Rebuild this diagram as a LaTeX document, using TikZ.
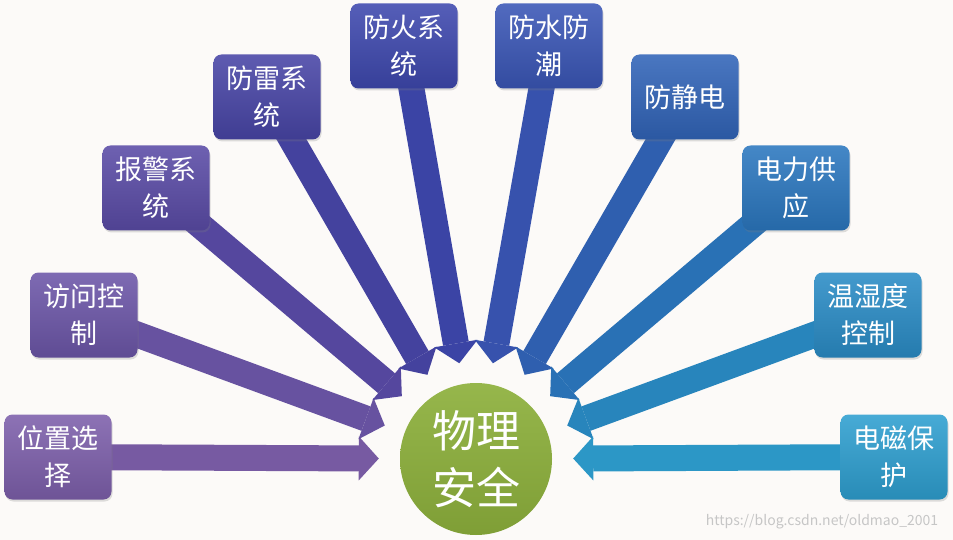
\documentclass[tikz,border=0pt]{standalone}
\usepackage{fontspec}
\setmainfont{Noto Sans CJK SC}
\usetikzlibrary{arrows.meta,backgrounds,shadows}
\newcommand{\boxwidth}{107}
\newcommand{\boxheight}{85}

\definecolor{c1}{HTML}{7D5FAB}
\definecolor{c2}{HTML}{6C56A8}
\definecolor{c3}{HTML}{5A4BA6}
\definecolor{c4}{HTML}{4845A6}
\definecolor{c5}{HTML}{3E48AE}
\definecolor{c6}{HTML}{3A56B6}
\definecolor{c7}{HTML}{3164B8}
\definecolor{c8}{HTML}{2B77BF}
\definecolor{c9}{HTML}{2A8CC6}
\definecolor{c10}{HTML}{2E9FD0}
\definecolor{core}{HTML}{8DB03C}
\definecolor{paper}{HTML}{FCFAF8}

\tikzset{
	topic/.style={rounded corners=8pt, minimum width=\boxwidth pt, minimum height=\boxheight pt,
		inner sep=2pt, text=white, align=center, font=\fontsize{27}{37}\selectfont,
		top color=#1!88!white, bottom color=#1!88!black,
		drop shadow={opacity=.25, shadow xshift=1pt, shadow yshift=-2pt}},
	feed/.style={line width=26pt, draw=#1!95!black, -{Triangle[length=20pt,width=44pt,line width=0pt]}, shorten >=21pt},
	hub/.style={circle, minimum size=152pt, inner sep=0pt, text=white, align=center,
		font=\fontsize{44}{57}\selectfont, top color=core!92!white, bottom color=core!90!black},
	watermark/.style={text=gray!45, font=\fontsize{14}{14}\selectfont}
}

\begin{document}
\begin{tikzpicture}[x=1pt,y=-1pt]

	\useasboundingbox (0,0) rectangle (953,540);
	\begin{pgfonlayer}{background}
		\fill[paper] (0,0) rectangle (953,540);
	\end{pgfonlayer}

	\node[hub] (safety) at (476,459) {物理\\安全};

	\foreach \n/\x/\y/\lbl in {1/58/457/位置选\\择, 2/84/315/访问控\\制, 3/156/188/报警系\\统,
		4/267/97/防雷系\\统, 5/404/46/防火系\\统, 6/549/46/防水防\\潮, 7/685/97/防静电,
		8/796/188/电力供\\应, 9/868/315/温湿度\\控制, 10/894/457/电磁保\\护}
	{
		\node[topic=c\n] (topic\n) at (\x,\y) {\lbl};
		\begin{pgfonlayer}{background}
			\draw[feed=c\n] (topic\n.center) -- (safety);
		\end{pgfonlayer}
	}

	\node[watermark] (mark) at (822,522) {https://blog.csdn.net/oldmao\_2001};

\end{tikzpicture}
\end{document}
